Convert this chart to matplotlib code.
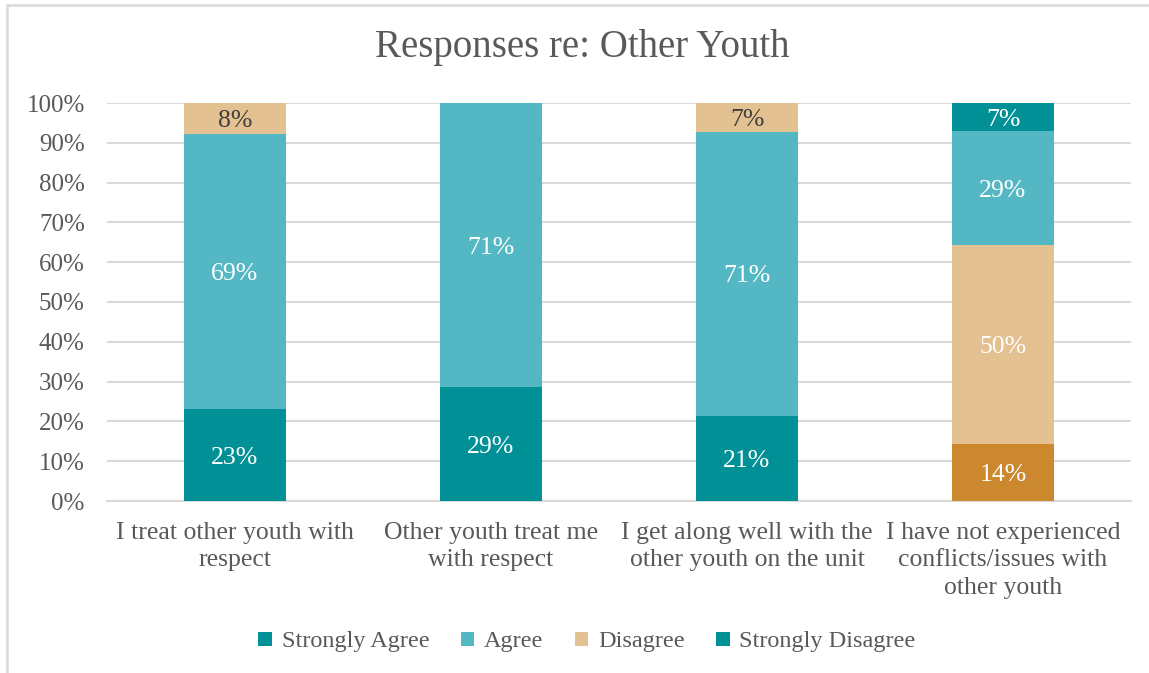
import matplotlib
matplotlib.use("Agg")
import matplotlib.pyplot as plt
from matplotlib.patches import Patch, Rectangle

categories = [
    "I treat other youth with\nrespect",
    "Other youth treat me\nwith respect",
    "I get along well with the\nother youth on the unit",
    "I have not experienced\nconflicts/issues with\nother youth",
]
series_names = ["Strongly Agree", "Agree", "Disagree", "Strongly Disagree"]
strongly_agree = [23.1, 28.6, 21.4, 7.1]
agree = [69.2, 71.4, 71.4, 28.6]
disagree = [7.7, 0.0, 7.1, 50.0]
strongly_disagree = [0.0, 0.0, 0.0, 14.3]
yticks = [0, 10, 20, 30, 40, 50, 60, 70, 80, 90, 100]

series_values = [strongly_agree, agree, disagree, strongly_disagree]
series_colors = ["#009096", "#54B7C4", "#E4C190", "#009096"]
stack_orders = [[0, 1, 2, 3], [0, 1, 2, 3], [0, 1, 2, 3], [3, 2, 1, 0]]
override_colors = {(3, 3): "#CB882F"}
label_colors = {(0, 2): "#404040", (2, 2): "#404040"}

FONT = "Liberation Serif"
TXT = "#595959"
W, H = 1149, 673
fig = plt.figure(figsize=(W / 100, H / 100), dpi=100)
fig.patches.append(Rectangle((6.5 / W, -0.1), 1.2, 1.1 - 5.5 / H, transform=fig.transFigure,
                             fill=False, edgecolor="#D9D9D9", linewidth=1.8, zorder=0))

ax = fig.add_axes([107 / W, 1 - 501 / H, (1131 - 107) / W, (501 - 103) / H])
ax.set_xlim(-0.5, 3.5)
ax.set_ylim(0, 100)

for i in range(len(categories)):
    bottom = 0.0
    for s in stack_orders[i]:
        v = series_values[s][i]
        if v <= 0:
            continue
        c = override_colors.get((i, s), series_colors[s])
        ax.bar(i, v, bottom=bottom, width=0.4, color=c, zorder=3, linewidth=0)
        lc = label_colors.get((i, s), "white")
        ax.text(i, bottom + v / 2, f"{round(v)}%", ha="center", va="center_baseline",
                fontsize=18.5, family=FONT, color=lc, zorder=4)
        bottom += v

ax.set_yticks(yticks)
ax.set_yticklabels([f"{t}%" for t in yticks], fontsize=18, family=FONT, color=TXT)
ax.set_xticks(range(len(categories)))
ax.set_xticklabels(categories, fontsize=18.5, family=FONT, color=TXT, linespacing=1.33)
ax.tick_params(axis="y", length=0, pad=16)
ax.tick_params(axis="x", length=0, pad=15)
ax.grid(axis="y", color="#D9D9D9", linewidth=1.5, zorder=0)
for sp in ["top", "right", "left"]:
    ax.spines[sp].set_visible(False)
ax.spines["bottom"].set_color("#D9D9D9")
ax.spines["bottom"].set_linewidth(1.5)
ax.set_axisbelow(True)

fig.text(582 / W, 1 - 48 / H, "Responses re: Other Youth", ha="center", va="center",
         fontsize=28, family=FONT, color=TXT)

handles = [Patch(facecolor=c, edgecolor="none") for c in series_colors]
leg = fig.legend(handles, series_names, loc="center", bbox_to_anchor=(587 / W, 1 - 642 / H),
                 ncol=4, frameon=False, handlelength=0.55, handleheight=0.55,
                 handletextpad=0.4, columnspacing=1.3,
                 prop={"family": FONT, "size": 17.5})
for t in leg.get_texts():
    t.set_color(TXT)

fig.savefig("out.png", dpi=100)
